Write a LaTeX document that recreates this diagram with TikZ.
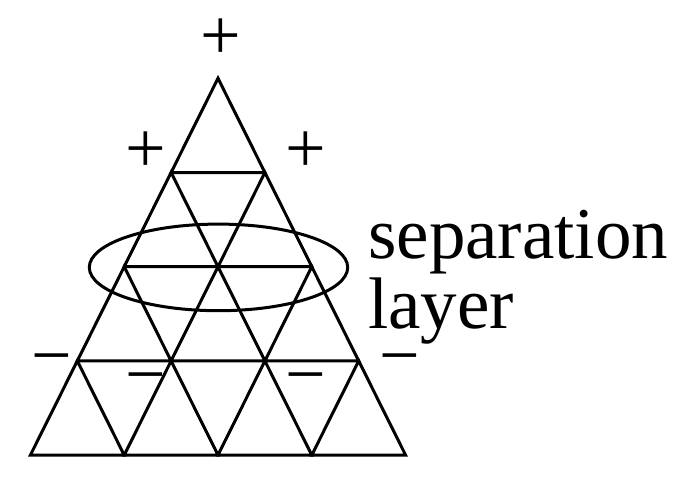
\documentclass[tikz,border=0pt]{standalone}
\usepackage{fontspec}
\setmainfont{Liberation Serif}
\usetikzlibrary{positioning}
\tikzset{
  gridline/.style={line width=3pt, line join=miter},
  layerring/.style={line width=3pt},
  signlabel/.style={font=\fontsize{72}{72}\selectfont, inner sep=0pt, anchor=base},
  layerlabel/.style={font=\fontsize{73}{73}\selectfont, inner sep=0pt, anchor=base west}
}

\begin{document}
\begin{tikzpicture}[x=1pt, y=-1pt]
\useasboundingbox (0,0) rectangle (681,482);

% ---- small triangles, row by row ----
\foreach \r in {0,...,3}{
  \foreach \j in {0,...,\r}{
    \draw[gridline] (218+93.8*\j-46.9*\r, 78.3+94.2*\r) -- ++(46.9,94.2) -- ++(-93.8,0) -- cycle;
  }
}

% ---- separation ring ----
\draw[layerring] (218.5,267.4) ellipse [x radius=129.2pt, y radius=43.3pt];

% ---- signs ----
\node[signlabel] (plusTop) at (221,59.9) {+};
\node[signlabel] (plusLeft) at (146,172.5) {+};
\node[signlabel] (plusRight) at (305.7,172.5) {+};
\node[signlabel] (minusOuterL) at (52,379.9) {−};
\node[signlabel] (minusInnerL) at (146,398.2) {−};
\node[signlabel] (minusInnerR) at (306,398.2) {−};
\node[signlabel] (minusOuterR) at (399.5,379.9) {−};

% ---- label ----
\node[layerlabel] (sepWord) at (368,258) {separation};
\node[layerlabel] (layerWord) at ([yshift=-70pt]sepWord.base west) {layer};

\end{tikzpicture}
\end{document}
